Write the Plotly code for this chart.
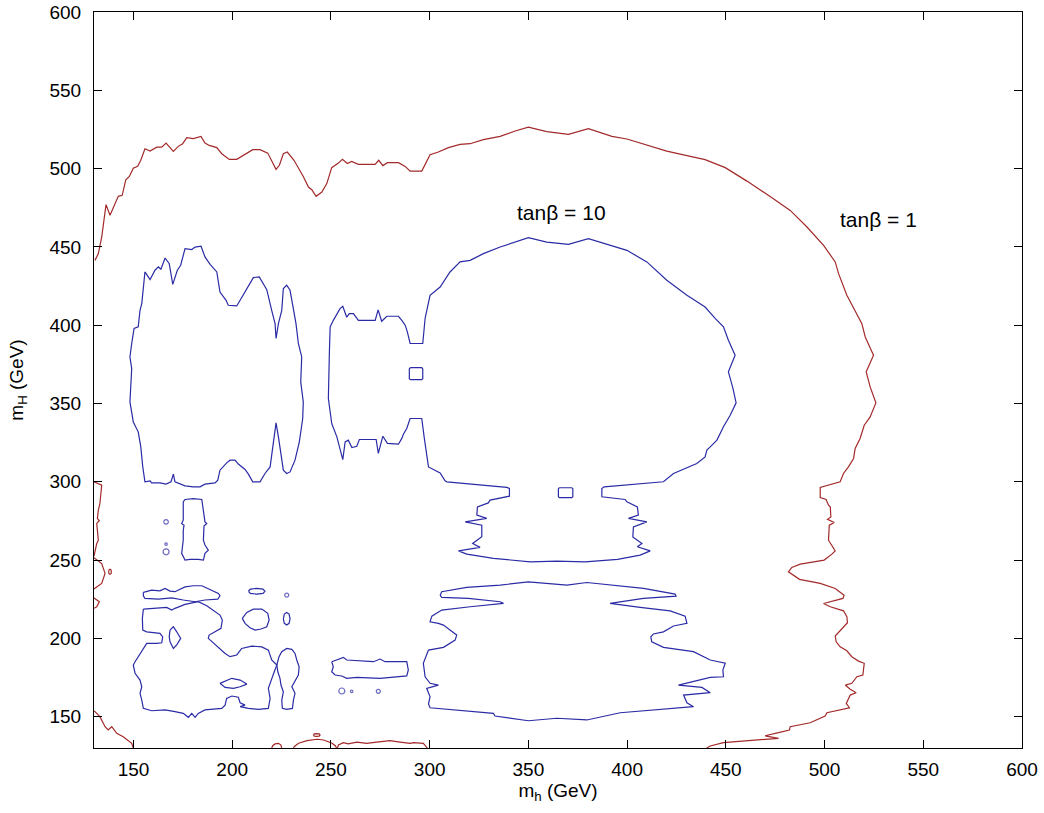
import plotly.graph_objects as go

BLUE = "#2b2ba6"
RED = "#a32a2a"

# ---------------- tan(beta) = 10 contours (blue), (m_h, m_H) in GeV ----------------
blue_upper_left = [(153.3,409.5),(154.2,413.8),(155.8,434.0),(158.4,429.1),(160.9,435.1),(162.6,437.2),(163.9,435.7),
    (166.0,442.9),(168.1,439.3),(169.9,426.1),(172.2,435.1),(173.9,438.3),(176.1,448.9),(179.5,448.3),(181.2,449.9),
    (184.2,450.4),(186.2,443.6),(188.8,438.9),(192.2,434.0),(193.8,421.2),(196.9,415.9),(198.0,412.7),(202.3,412.3),
    (204.8,417.6),(210.7,430.4),(213.7,430.8),(217.5,422.7),(220.0,409.5),(221.7,401.0),(222.2,391.5),(223.4,401.0),
    (225.1,409.5),(225.9,423.4),(227.6,425.5),(229.3,422.3),(232.3,401.0),(233.5,388.3),(235.2,379.7),(234.7,363.8),
    (236.0,351.0),(235.7,340.4),(234.0,325.5),(231.8,313.8),(229.3,306.3),(227.6,305.3),(225.9,307.4),(225.1,314.9),
    (223.4,328.7),(222.2,337.6),(221.3,327.7),(220.0,317.0),(219.2,309.5),(216.6,305.3),(214.1,300.0),(210.4,300.0),
    (208.2,304.9),(206.5,307.9),(203.1,311.3),(201.4,313.8),(198.9,313.8),(197.2,312.1),(193.8,307.4),(192.7,301.0),
    (191.3,299.3),(186.2,298.5),(183.7,296.8),(180.3,296.8),(176.1,297.4),(173.6,298.9),(171.0,300.0),(170.2,304.9),
    (169.0,300.0),(166.5,298.5),(163.4,299.3),(159.2,299.3),(158.4,300.6),(155.8,300.0),(154.7,309.5),(153.7,322.3),
    (152.4,331.9),(149.9,338.2),(148.2,351.0),(149.1,372.3),(148.2,379.7),(149.1,388.3),(150.3,397.9),(152.4,398.9),
    (153.3,409.5)]

blue_upper_main = [(250.4,337.2),(248.7,353.2),(249.2,381.9),(249.6,398.9),(251.2,403.1),(254.6,410.6),(256.0,412.1),
    (258.0,405.1),(259.3,407.4),(261.4,407.4),(263.9,403.1),(272.4,403.1),(273.9,409.8),(275.7,402.5),(278.3,405.7),
    (284.2,405.7),(285.9,403.1),(287.6,400.0),(288.7,395.7),(290.1,388.3),(296.5,388.3),(297.2,400.0),(297.7,404.4),
    (300.2,419.1),(305.3,424.4),(310.3,434.0),(315.4,440.4),(320.5,441.4),(327.2,445.7),(335.7,449.9),(343.3,453.1),
    (350.0,455.9),(359.3,453.1),(370.3,451.6),(380.4,455.3),(391.4,451.0),(399.9,447.8),(410.0,440.4),(420.1,428.7),
    (430.3,419.1),(439.5,411.6),(444.6,404.4),(447.1,401.4),(448.8,398.9),(451.3,390.4),(454.7,380.8),(451.3,370.2),
    (453.6,359.6),(455.2,350.4),(452.2,342.5),(448.8,335.1),(445.5,326.6),(442.1,322.3),(440.4,320.2),(439.5,315.9),
    (435.3,311.7),(423.5,305.3),(420.1,302.1),(418.4,300.0),(388.4,296.8),(387.2,295.7),(387.2,290.4),(399.0,288.7),
    (399.9,287.2),(405.2,284.0),(405.7,278.7),(400.7,276.6),(410.0,274.4),(403.2,271.2),(402.9,264.7),(407.5,260.6),
    (405.2,258.5),(411.7,255.9),(406.6,253.2),(395.2,250.4),(378.7,248.9),(364.4,249.3),(350.9,248.9),(332.3,251.1),
    (318.8,253.8),(314.6,255.9),(325.5,258.1),(321.8,260.6),(326.4,264.9),(326.4,269.1),(326.4,272.3),(318.0,274.4),
    (328.9,276.6),(323.9,278.7),(324.2,284.0),(329.7,286.5),(330.6,288.3),(340.4,290.8),(340.4,295.7),(339.1,296.4),
    (308.7,300.0),(307.8,300.6),(305.3,305.7),(301.9,307.9),(299.4,309.5),(297.2,328.7),(296.0,340.4),(290.1,340.4),
    (288.4,334.0),(286.7,330.4),(285.9,327.7),(284.2,324.0),(278.6,324.5),(276.3,329.1),(274.0,318.1),(272.9,327.0),
    (264.4,327.0),(263.1,322.7),(260.6,321.9),(258.8,326.6),(257.2,325.5),(256.0,314.2),(254.6,320.2),(253.0,328.7),
    (250.4,337.2)]

blue_hole_a = [(290.2,372.9),(296.0,372.9),(296.5,372.0),(296.5,365.8),(296.0,365.2),(290.2,365.2),(289.7,365.8),
    (289.7,372.0),(290.2,372.9)]
blue_hole_b = [(365.7,296.2),(372.0,296.2),(372.5,295.6),(372.5,290.5),(372.0,289.9),(365.7,289.9),(365.2,290.5),
    (365.2,295.6),(365.7,296.2)]

blue_lower_main = [(305.3,227.6),(306.1,229.8),(318.8,232.6),(335.7,234.0),(350.0,236.1),(359.3,235.1),(369.5,234.0),
    (379.6,235.7),(393.1,234.0),(408.3,231.9),(424.3,228.3),(424.8,227.0),(408.3,225.5),(391.4,222.3),(406.6,219.8),
    (421.8,217.6),(429.4,214.2),(430.3,209.6),(423.5,207.9),(418.4,204.2),(413.3,202.8),(412.0,201.0),(412.5,197.8),
    (418.4,194.3),(433.6,191.5),(442.1,186.2),(449.7,184.1),(448.5,179.8),(448.8,175.5),(442.1,175.1),(426.0,170.2),
    (437.9,168.7),(442.1,165.3),(428.6,163.8),(430.3,158.9),(433.6,156.4),(396.5,152.5),(379.6,147.9),(364.4,149.0),
    (350.0,147.4),(333.1,150.4),(332.3,152.1),(300.2,155.7),(299.4,158.1),(300.2,162.7),(298.5,168.1),(304.4,170.2),
    (300.2,171.3),(297.7,175.5),(296.8,184.1),(299.4,192.5),(307.0,194.3),(312.9,198.9),(313.7,202.1),(310.3,205.3),
    (307.0,208.5),(304.4,209.6),(300.2,210.6),(301.1,214.2),(306.1,218.1),(320.5,220.2),(337.4,222.3),(335.7,223.4),
    (319.6,225.5),(306.1,226.2),(305.3,227.6)]

blue_lower_left = [(155.0,218.7),(162.6,219.5),(166.8,219.8),(169.4,218.1),(171.0,219.2),(176.1,221.7),(182.8,223.4),
    (187.1,220.8),(190.4,218.1),(193.8,214.9),(195.0,211.7),(194.3,206.4),(191.3,204.2),(188.3,202.1),(187.9,200.0),
    (190.4,197.2),(193.8,193.0),(196.4,190.4),(198.9,188.3),(202.3,189.4),(204.8,193.6),(209.9,195.1),(215.0,194.6),
    (218.3,192.5),(220.0,186.2),(222.6,183.0),(221.3,178.7),(220.0,173.4),(218.3,168.1),(219.2,161.7),(218.3,155.3),
    (213.2,154.7),(208.2,155.3),(204.0,156.4),(206.5,157.4),(204.0,158.9),(203.1,162.4),(199.8,163.2),(197.2,161.7),
    (196.4,157.4),(194.7,155.3),(186.2,154.3),(182.8,152.1),(181.2,149.6),(179.5,152.1),(177.8,149.6),(175.2,152.1),
    (171.0,153.2),(166.0,154.3),(159.2,153.8),(155.0,155.3),(154.2,160.6),(153.3,164.9),(154.2,169.1),(153.3,173.4),
    (150.8,177.7),(149.9,183.0),(150.8,185.1),(153.3,190.4),(155.0,193.6),(156.7,196.8),(161.8,196.8),(164.3,197.2),
    (164.8,201.0),(163.4,203.2),(156.7,204.2),(154.7,205.3),(154.5,212.8),(155.0,218.7)]

blue_strip = [(155.0,229.4),(159.2,230.8),(163.4,230.4),(166.0,231.9),(168.5,230.2),(171.0,229.8),(176.1,232.9),
    (180.3,233.6),(184.6,233.6),(189.6,230.8),(193.0,228.7),(193.8,227.2),(192.7,225.1),(186.2,224.5),(181.2,223.4),
    (175.2,224.5),(169.4,225.9),(162.6,225.1),(155.8,225.5),(155.0,227.2),(155.0,229.4)]

blue_bar_vertical = [(176.1,288.7),(180.3,289.3),(184.6,288.7),(185.4,281.9),(186.2,274.4),(187.1,273.4),(185.7,271.7),
    (185.4,262.7),(186.2,259.6),(187.9,256.4),(186.2,254.3),(185.4,250.0),(182.8,250.5),(178.6,250.5),(176.1,250.0),
    (174.4,254.3),(175.2,262.7),(175.2,269.1),(175.6,272.3),(174.4,273.4),(175.2,275.5),(175.2,287.2),(176.1,288.7)]

blue_lens_vertical = [(168.5,205.3),(170.2,207.4),(171.9,204.2),(173.9,200.0),(171.9,195.8),(170.2,193.6),(168.5,197.8),
    (168.1,201.0),(168.5,205.3)]
blue_lens_horizontal = [(193.8,171.3),(197.2,173.4),(199.8,174.5),(204.0,173.4),(207.4,170.8),(204.0,169.1),(200.6,168.1),
    (196.4,168.7),(193.8,171.3)]
blue_double_lobe = [(222.6,183.0),(223.7,188.3),(225.1,191.5),(227.6,193.6),(230.2,193.0),(231.8,190.4),(232.7,186.2),
    (233.9,181.9),(233.5,176.6),(231.8,172.3),(230.2,169.1),(231.8,164.9),(231.0,160.6),(230.5,155.3),(227.6,154.7),
    (225.4,155.3),(225.1,160.6),(225.9,165.9),(224.7,170.2),(224.2,174.5),(223.1,178.7),(222.6,183.0)]
blue_ellipse_230 = [(208.2,230.1),(209.2,231.5),(212.4,231.9),(215.6,231.5),(216.6,230.1),(215.6,228.7),(212.4,228.3),
    (209.2,228.7),(208.2,230.1)]
blue_blob_212 = [(205.1,212.8),(207.4,216.6),(210.7,218.7),(215.0,218.7),(218.0,216.0),(218.7,211.7),(217.5,207.4),
    (214.6,206.0),(211.6,205.3),(209.0,206.8),(206.5,209.6),(205.1,212.8)]
blue_ellipse_228 = [(225.9,212.5),(226.4,215.5),(227.6,216.6),(228.8,215.5),(229.3,212.5),(228.8,209.6),(227.6,208.5),
    (226.4,209.6),(225.9,212.5)]
blue_bar_horizontal = [(250.4,185.1),(256.3,187.9),(258.0,186.2),(271.5,185.1),(274.9,186.8),(277.4,185.1),(288.4,185.1),
    (289.2,179.8),(288.4,176.0),(274.9,174.5),(263.1,175.1),(258.0,174.5),(255.5,176.0),(252.1,176.6),(250.4,178.7),
    (251.2,181.9),(250.4,185.1)]

# tiny closed blue contours drawn as open circles: (m_h, m_H, diameter in px)
blue_islands_x = [166.5, 166.5, 166.5, 227.6, 255.5, 260.5, 274.0]
blue_islands_y = [274.4, 260.2, 255.3, 227.6, 166.4, 166.2, 166.2]
blue_islands_size = [4.5, 2.5, 6, 4, 6, 2.5, 4]

# ---------------- tan(beta) = 1 contours (red) ----------------
red_main = [(130.5,441.4),(132.2,445.7),(133.9,456.3),(136.1,477.0),(138.1,470.2),(140.1,476.5),(142.3,482.3),
    (144.3,482.9),(146.1,492.9),(147.9,495.0),(149.9,500.3),(152.1,501.4),(153.7,505.3),(155.8,512.7),(158.4,511.2),
    (161.8,513.7),(164.3,513.7),(166.5,516.3),(168.5,513.7),(170.2,511.0),(172.7,514.2),(174.9,515.9),(177.0,519.7),
    (180.3,519.1),(184.2,520.6),(186.2,516.3),(188.4,514.8),(192.2,513.4),(194.7,509.5),(198.5,505.9),(202.3,505.9),
    (205.6,508.5),(210.4,512.1),(214.1,512.1),(218.0,509.9),(222.2,499.5),(223.9,502.1),(225.9,509.5),(227.9,510.6),
    (231.3,505.3),(236.0,495.0),(238.6,488.2),(240.3,486.5),(242.5,482.3),(245.4,485.0),(247.9,490.4),(250.4,500.6),
    (253.8,503.5),(255.8,505.9),(258.3,503.2),(260.5,504.6),(263.9,502.7),(272.4,502.7),(274.2,505.3),(276.3,501.9),
    (278.6,503.8),(284.2,503.8),(287.6,501.4),(290.1,498.4),(296.0,498.4),(300.2,508.9),(304.4,510.6),(309.5,513.4),
    (315.4,515.5),(320.5,515.9),(327.2,518.5),(335.7,520.6),(343.3,524.0),(350.0,526.5),(359.3,523.6),(370.3,521.9),
    (380.4,525.5),(392.3,520.6),(399.9,518.9),(410.0,514.8),(420.1,511.2),(430.3,508.3),(439.5,505.7),(449.7,500.6),
    (460.7,492.0),(474.1,480.8),(482.6,473.3),(491.1,462.7),(499.5,451.0),(505.4,440.4),(507.1,432.9),(511.3,419.1),
    (515.5,409.5),(518.9,401.0),(520.6,392.5),(524.8,380.8),(521.1,370.2),(523.1,360.6),(526.0,350.4),(523.1,341.4),
    (520.1,336.1),(518.0,327.7),(515.5,321.3),(514.7,314.9),(512.1,309.5),(509.6,305.3),(507.9,300.0),(497.8,296.4),
    (497.8,289.9),(500.8,288.7),(502.0,285.1),(502.9,284.0),(503.2,277.6),(501.5,276.0),(504.9,274.0),(502.4,272.3),
    (502.0,262.7),(503.7,259.6),(505.4,255.9),(503.7,253.8),(499.8,250.0),(487.7,247.4),(483.4,245.3),(481.7,242.5),
    (483.9,240.4),(487.3,237.7),(497.8,235.1),(505.4,231.9),(509.9,227.6),(509.3,225.5),(499.5,222.3),(502.9,220.2),
    (509.6,217.6),(511.3,213.8),(511.6,210.0),(509.6,207.4),(507.1,204.2),(505.4,201.5),(505.9,197.8),(507.9,194.6),
    (511.3,192.1),(513.8,188.3),(517.2,185.5),(520.1,184.1),(519.4,176.6),(516.4,175.5),(513.8,171.3),(510.5,170.2),
    (513.0,167.5),(516.0,165.3),(513.0,163.8),(511.0,158.5),(512.6,155.7),(507.1,154.3),(501.2,152.5),(500.3,150.4),
    (494.4,147.4),(492.7,146.1),(482.6,143.6),(482.2,141.5),(476.7,139.8),(474.1,138.9),(469.9,137.8),(476.7,136.2),
    (460.6,134.7),(448.8,133.4),(442.1,131.3),(440.3,130.0)]

red_left_a = [(130.0,300.0),(133.9,297.8),(133.0,286.2),(132.2,281.9),(131.7,276.6),(132.7,275.1),(131.4,273.4),
    (132.2,262.7),(131.4,260.6),(130.5,254.3),(130.0,252.5)]
red_left_b = [(130.0,251.5),(131.0,250.5),(133.9,247.8),(135.6,241.5),(133.9,235.1),(131.0,232.5),(130.0,231.5)]
red_left_c = [(130.0,225.8),(131.0,225.0),(132.7,223.4),(131.4,220.2),(130.0,219.2)]
red_bottom_left = [(130.0,153.6),(130.5,153.2),(133.0,150.0),(135.6,143.6),(137.2,141.5),(139.0,143.6),(141.5,139.4),
    (144.8,137.2),(149.1,133.0),(149.9,130.0)]
red_bottom_1 = [(220.0,130.0),(220.5,131.5),(221.7,132.6),(223.4,133.0),(224.6,132.0),(225.1,130.0)]
red_bottom_2 = [(231.0,130.0),(231.5,131.0),(233.6,133.0),(237.9,134.7),(243.0,135.6),(246.3,135.1),(250.6,133.0),
    (252.3,131.3),(252.8,130.0)]
red_bottom_3 = [(253.3,130.0),(253.8,131.9),(256.3,133.4),(258.8,132.6),(263.1,133.8),(268.1,133.0),(273.2,133.8),
    (279.9,134.7),(285.0,133.8),(290.1,133.0),(291.8,133.4),(296.8,133.0),(298.5,130.4),(298.9,130.0)]
red_island_1 = [(137.4,242.5),(137.6,243.7),(138.1,244.1),(138.6,243.7),(138.8,242.5),(138.6,241.3),(138.1,240.9),
    (137.6,241.3),(137.4,242.5)]
red_island_2 = [(241.1,138.3),(241.6,139.0),(242.8,139.2),(244.0,139.0),(244.5,138.3),(244.0,137.6),(242.8,137.4),
    (241.6,137.6),(241.1,138.3)]

x_ticks = [150, 200, 250, 300, 350, 400, 450, 500, 550, 600]
y_ticks = [150, 200, 250, 300, 350, 400, 450, 500, 550, 600]

labels = [("tan\u03b2 = 10", 366.6, 472.1), ("tan\u03b2 = 1", 527.3, 467.6)]

blue_curves = [blue_upper_left, blue_upper_main, blue_hole_a, blue_hole_b, blue_lower_main, blue_lower_left,
               blue_strip, blue_bar_vertical, blue_lens_vertical, blue_lens_horizontal, blue_double_lobe,
               blue_ellipse_230, blue_blob_212, blue_ellipse_228, blue_bar_horizontal]
red_curves = [red_main, red_left_a, red_left_b, red_left_c, red_bottom_left, red_bottom_1, red_bottom_2,
              red_bottom_3, red_island_1, red_island_2]

fig = go.Figure()
for curve, col in [(c, BLUE) for c in blue_curves] + [(c, RED) for c in red_curves]:
    fig.add_trace(go.Scatter(x=[p[0] for p in curve], y=[p[1] for p in curve], mode="lines",
                             line=dict(color=col, width=1.2), hoverinfo="skip", showlegend=False))

fig.add_trace(go.Scatter(x=blue_islands_x, y=blue_islands_y, mode="markers",
                         marker=dict(symbol="circle-open", size=blue_islands_size, color=BLUE,
                                     line=dict(width=1.2, color=BLUE)),
                         hoverinfo="skip", showlegend=False))

FONT = "Liberation Sans, Arial, Helvetica, sans-serif"
for txt, x, y in labels:
    fig.add_annotation(x=x, y=y, text=txt, showarrow=False, font=dict(family=FONT, size=21, color="black"))

axis_common = dict(showline=True, linecolor="black", linewidth=1, mirror="ticks", ticks="inside",
                   ticklen=8, tickcolor="black", tickwidth=1, showgrid=False, zeroline=False,
                   automargin=False, tickfont=dict(family=FONT, size=19, color="black"))

fig.update_layout(
    template="none",
    width=1044, height=813,
    margin=dict(l=94, r=22, t=12, b=65, pad=0),
    paper_bgcolor="white", plot_bgcolor="white",
    xaxis=dict(range=[130, 600], tickvals=x_ticks, ticklabelstandoff=4,
               title=dict(text="m<sub>h</sub> (GeV)", font=dict(family=FONT, size=19, color="black"), standoff=4),
               **axis_common),
    yaxis=dict(range=[130, 600], tickvals=y_ticks, ticklabelstandoff=8,
               title=dict(text="m<sub>H</sub> (GeV)", font=dict(family=FONT, size=19, color="black"), standoff=20),
               **axis_common),
)

fig.write_html("out.html", config={"displayModeBar": False},
               post_script="document.body.style.margin='0';document.body.style.overflow='hidden';")
